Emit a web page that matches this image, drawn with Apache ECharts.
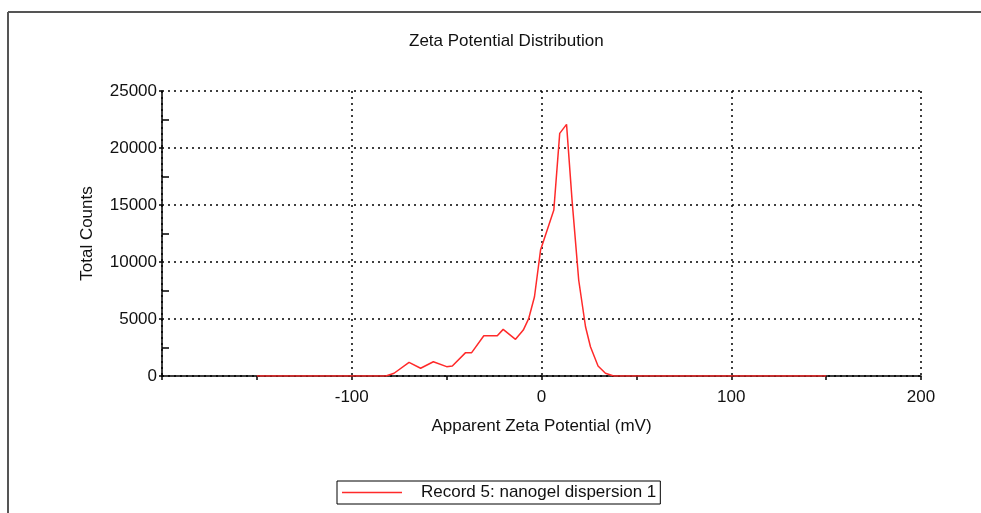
<!DOCTYPE html>
<html lang="en">
<head>
    <meta charset="UTF-8">
    <title>Zeta Potential Distribution</title>
    <script src="https://cdn.jsdelivr.net/npm/echarts@6/dist/echarts.min.js"></script>
    <style>
        html, body { margin: 0; padding: 0; background: #fff; }
    </style>
</head>
<body>
<div id="chart" style="width: 981px;height:513px"></div>
<script>
    // apparent zeta potential (mV) and total counts
    var zeta = [-150, -100, -82, -77.7, -69.8, -63.7, -57, -50, -47, -40, -36.8, -30.4, -23.3, -20.2,
        -13.7, -9.6, -6.7, -3.7, -0.5, 6.5, 9.6, 13.2, 16.1, 19.6, 23.2, 25.8, 29.8, 33.7, 38, 100, 150];
    var counts = [0, 0, 0, 240, 1200, 680, 1250, 820, 880, 2050, 2050, 3530, 3530, 4090,
        3220, 4030, 5060, 6950, 11050, 14560, 21280, 22070, 15430, 8420, 4320, 2570, 880, 240, 0, 0, 0];
    var seriesName = 'Record 5: nanogel dispersion 1';

    var chartDom = document.getElementById('chart');
    var myChart = echarts.init(chartDom);
    var font = '"Liberation Sans", Arial, sans-serif';

    var points = zeta.map(function (z, i) { return [z, counts[i]]; });

    var option = {
        animation: false,
        backgroundColor: '#fff',
        // outer frame
        graphic: [
            { type: 'line', shape: { x1: 8, y1: 12, x2: 981, y2: 12 }, style: { stroke: '#555', lineWidth: 2 } },
            { type: 'line', shape: { x1: 8, y1: 12, x2: 8, y2: 513 }, style: { stroke: '#555', lineWidth: 2 } }
        ],
        title: {
            text: 'Zeta Potential Distribution',
            left: 404,
            top: 28,
            textStyle: { fontFamily: font, fontSize: 17, fontWeight: 'normal', color: '#111' }
        },
        legend: {
            data: [{ name: seriesName, icon: 'rect' }],
            left: 337,
            top: 481,
            padding: [3, 4, 3, 5],
            borderColor: '#000',
            borderWidth: 1,
            itemWidth: 60,
            itemHeight: 1.5,
            textStyle: { fontFamily: font, fontSize: 17, color: '#111', padding: [0, 0, 0, 14] }
        },
        grid: {
            left: 162,
            right: 60,
            top: 91,
            bottom: 137
        },
        xAxis: {
            type: 'value',
            min: -200,
            max: 200,
            interval: 100,
            name: 'Apparent Zeta Potential (mV)',
            nameLocation: 'middle',
            nameGap: 42,
            nameTextStyle: { fontFamily: font, fontSize: 17, color: '#111' },
            axisLine: { show: true, onZero: false, lineStyle: { color: '#000', width: 1.5 } },
            axisTick: { show: true, length: 4, lineStyle: { color: '#000', width: 1.5 } },
            minorTick: { show: true, splitNumber: 2, length: 4, lineStyle: { color: '#000', width: 1.5 } },
            axisLabel: {
                fontFamily: font, fontSize: 17, color: '#111', margin: 13,
                formatter: function (v) { return v === -200 ? '' : String(v); }
            },
            splitLine: { show: true, lineStyle: { color: '#000', type: [2, 4], width: 1.5 } }
        },
        yAxis: {
            type: 'value',
            min: 0,
            max: 25000,
            interval: 5000,
            name: 'Total Counts',
            nameLocation: 'middle',
            nameGap: 66,
            nameTextStyle: { fontFamily: font, fontSize: 17, color: '#111' },
            axisLine: { show: true, onZero: false, lineStyle: { color: '#000', width: 1.5 } },
            axisTick: { show: true, length: 3, lineStyle: { color: '#000', width: 1.5 } },
            minorTick: { show: true, splitNumber: 2, length: -7, lineStyle: { color: '#000', width: 1.5 } },
            axisLabel: {
                fontFamily: font, fontSize: 17, color: '#111', margin: 5,
                formatter: function (v) { return String(v); }
            },
            splitLine: { show: true, lineStyle: { color: '#000', type: [2, 4], width: 1.5 } }
        },
        series: [
            {
                name: seriesName,
                type: 'line',
                data: points,
                symbol: 'none',
                lineStyle: { color: '#ff2a2a', width: 1.5 },
                itemStyle: { color: '#ff2a2a' }
            }
        ]
    };

    option && myChart.setOption(option);
</script>
</body>
</html>
